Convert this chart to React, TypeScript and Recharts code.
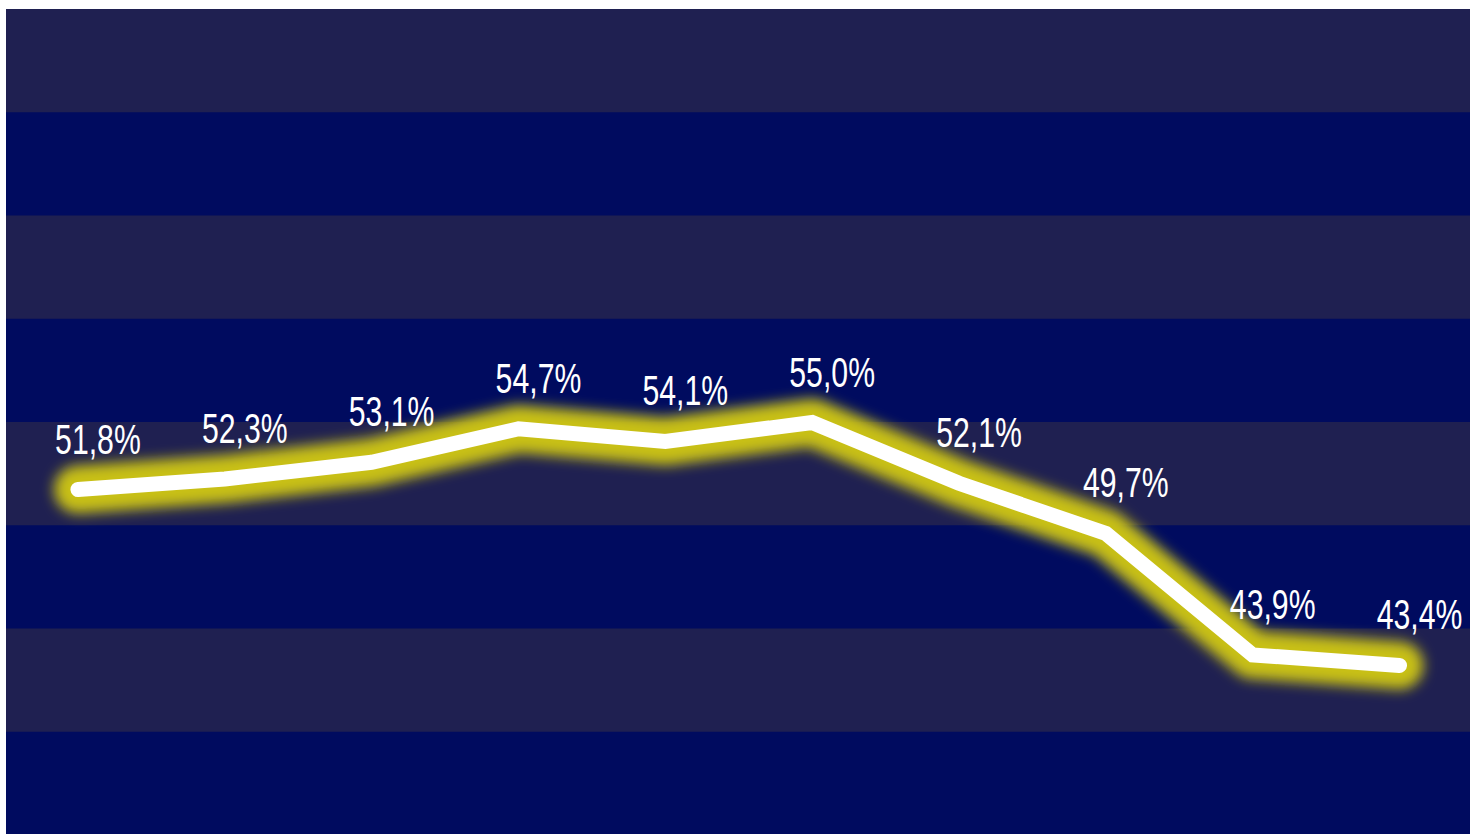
import { LineChart, Line, XAxis, YAxis, ReferenceArea, LabelList } from 'recharts';

const periods = ['1', '2', '3', '4', '5', '6', '7', '8', '9', '10'];
const shares = [51.8, 52.3, 53.1, 54.7, 54.1, 55.0, 52.1, 49.7, 43.9, 43.4];
const blueBands = [1, 3, 5, 7];

const data = periods.map((p, i) => ({ period: p, idx: i, share: shares[i] }));

const fmt = (v: number) => v.toFixed(1).replace('.', ',') + '%';

const ValueLabel = (props: any) => {
  const { x, y, value } = props;
  return (
    <text
      transform={`translate(${x + 20}, ${y - 36}) scale(0.72, 1)`}
      textAnchor="middle"
      fill="#ffffff"
      fontSize={42}
      fontFamily="'Liberation Sans', Arial, sans-serif"
    >
      {fmt(value)}
    </text>
  );
};

export default function App() {
  return (
    <div
      style={{
        position: 'fixed',
        left: 6,
        top: 9,
        width: 1464,
        height: 826,
        background: '#1f2051',
      }}
    >
      <LineChart
        width={1464}
        height={826}
        data={data}
        margin={{ top: 0, right: 0, bottom: 0, left: 0 }}
      >
        <defs>
          <filter id="glow" x="-20%" y="-80%" width="140%" height="260%">
            <feGaussianBlur stdDeviation="6.5" />
          </filter>
        </defs>
        <XAxis dataKey="idx" type="number" hide domain={[-0.49, 9.48]} />
        <YAxis yAxisId="grid" hide domain={[0, 8]} reversed />
        <YAxis yAxisId="val" hide domain={[35.3, 74.75]} />
        {blueBands.map((b) => (
          <ReferenceArea
            key={b}
            yAxisId="grid"
            y1={b}
            y2={b + 1}
            fill="#000b5f"
            fillOpacity={1}
            stroke="none"
            ifOverflow="extendDomain"
          />
        ))}
        <Line
          yAxisId="val"
          dataKey="share"
          type="linear"
          stroke="#c8c012"
          strokeWidth={48}
          strokeLinecap="round"
          strokeLinejoin="round"
          filter="url(#glow)"
          dot={false}
          activeDot={false}
          isAnimationActive={false}
        />
        <Line
          yAxisId="val"
          dataKey="share"
          type="linear"
          stroke="#ffffff"
          strokeWidth={15}
          strokeLinecap="round"
          strokeLinejoin="miter"
          dot={false}
          activeDot={false}
          isAnimationActive={false}
        >
          <LabelList dataKey="share" content={ValueLabel} />
        </Line>
      </LineChart>
    </div>
  );
}
